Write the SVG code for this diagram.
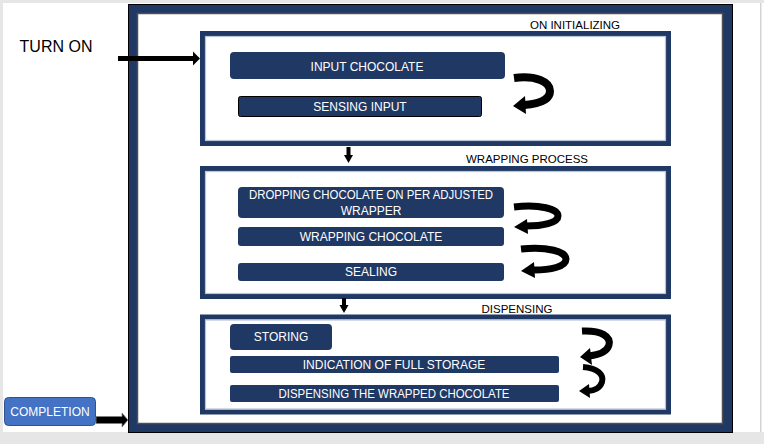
<svg xmlns="http://www.w3.org/2000/svg" width="764" height="444" viewBox="0 0 764 444">
<style>
.stage{fill:#ffffff;stroke:#203864;stroke-width:5}
.stagein{fill:none;stroke:#b8c3d6;stroke-width:1.2}
.step{fill:#203864}
.st{font-family:"Liberation Sans",Arial,sans-serif;font-size:12px;fill:#ffffff;text-anchor:middle}
.lbl{font-family:"Liberation Sans",Arial,sans-serif;font-size:11.5px;fill:#000000;text-anchor:middle}
.band{fill:none;stroke:#000000}
.head{fill:#000000}
</style>
<rect x="0" y="0" width="764" height="444" fill="#ffffff"/>
<rect x="0" y="0" width="764" height="3" fill="#e6e6e6"/>
<rect x="0" y="0" width="3" height="444" fill="#e6e6e6"/>
<rect x="760" y="3" width="1.5" height="429" fill="#d4d4d4"/>
<rect x="0" y="432" width="764" height="12" fill="#e6e6e6"/>

<g id="frame">
<rect x="128.5" y="4.5" width="604" height="428" fill="#203864" stroke="#000000" stroke-width="1"/>
<rect x="137.5" y="13.5" width="585" height="410" fill="#ffffff" stroke="#505050" stroke-width="1.5"/>
</g>

<g id="turn-on">
<text x="56" y="52" font-family="'Liberation Sans',Arial,sans-serif" font-size="16" fill="#000000" text-anchor="middle">TURN ON</text>
</g>

<g id="completion">
<rect x="4.5" y="397.5" width="91" height="28" rx="4" fill="#4472c4" stroke="#2f528f" stroke-width="1"/>
<text x="50" y="415.5" class="st">COMPLETION</text>
</g>

<g id="stage-initializing">
<rect class="stage" x="202.5" y="33.5" width="466" height="110"/>
<rect class="stagein" x="205.5" y="36.5" width="460" height="104"/>
<text class="lbl" x="575" y="29">ON INITIALIZING</text>
</g>
<g id="step-input-chocolate">
<rect class="step" x="230" y="52" width="275" height="27" rx="4"/>
<text class="st" x="367" y="70.5">INPUT CHOCOLATE</text>
</g>
<g id="step-sensing-input">
<rect class="step" x="238.5" y="96.5" width="243" height="20" rx="2" stroke="#000000" stroke-width="1"/>
<text class="st" x="360" y="110.5">SENSING INPUT</text>
</g>

<g id="stage-wrapping">
<rect class="stage" x="202.5" y="168.5" width="466" height="128"/>
<rect class="stagein" x="205.5" y="171.5" width="460" height="122"/>
<text class="lbl" x="527" y="163">WRAPPING PROCESS</text>
</g>
<g id="step-dropping">
<rect class="step" x="238" y="187" width="266" height="31" rx="4"/>
<text class="st" x="371" y="198.5" textLength="244" lengthAdjust="spacingAndGlyphs">DROPPING CHOCOLATE ON PER ADJUSTED</text>
<text class="st" x="371" y="215">WRAPPER</text>
</g>
<g id="step-wrapping-chocolate">
<rect class="step" x="238" y="227" width="266" height="19" rx="3"/>
<text class="st" x="371" y="240.5">WRAPPING CHOCOLATE</text>
</g>
<g id="step-sealing">
<rect class="step" x="238" y="263" width="266" height="18" rx="3"/>
<text class="st" x="371" y="276">SEALING</text>
</g>

<g id="stage-dispensing">
<rect class="stage" x="202.5" y="317" width="466" height="95"/>
<rect class="stagein" x="205.5" y="320" width="460" height="89"/>
<text class="lbl" x="517" y="313">DISPENSING</text>
</g>
<g id="step-storing">
<rect class="step" x="230" y="324" width="102" height="26" rx="4"/>
<text class="st" x="281" y="341">STORING</text>
</g>
<g id="step-indication">
<rect class="step" x="230" y="356" width="329" height="17" rx="2"/>
<text class="st" x="394" y="369">INDICATION OF FULL STORAGE</text>
</g>
<g id="step-dispensing-wrapped">
<rect class="step" x="230" y="385" width="329" height="17" rx="2"/>
<text class="st" x="394" y="397.5" textLength="231" lengthAdjust="spacingAndGlyphs">DISPENSING THE WRAPPED CHOCOLATE</text>
</g>

<g id="connectors">
<rect x="118" y="56" width="76" height="5" fill="#000000"/>
<polygon points="193,51.5 200,58.5 193,65.5" fill="#000000"/>
<polygon points="96,416.5 122,416.5 122,413 128,420 122,427 122,423.5 96,423.5" fill="#000000" stroke="#7f7f7f" stroke-width="0.8"/>
<rect x="346.5" y="147" width="4" height="9" fill="#000000"/>
<polygon points="344,155 353,155 348.5,163" fill="#000000"/>
<rect x="342" y="298" width="4" height="8" fill="#000000"/>
<polygon points="339.5,305 348.5,305 344,313" fill="#000000"/>

<path class="band" stroke-width="8" d="M514,78 C536,75 550,82 550,91 C550,100 538,104 524,105"/>
<polygon class="head" points="513,106 525,96 526,114"/>

<path class="band" stroke-width="7" d="M514,207 C540,204 558,209 558,216 C558,223 542,226 526,226"/>
<polygon class="head" points="514,227 527,219 528,234"/>

<path class="band" stroke-width="7" d="M521,249 C548,246 566,252 566,259 C566,267 550,270 534,270"/>
<polygon class="head" points="521,271 534,262 535,278"/>

<path class="band" stroke-width="7" d="M582,331 C602,330 611,337 609,345 C607,352 598,355 589,356"/>
<polygon class="head" points="580,357 590,348 592,365"/>

<path class="band" stroke-width="6" d="M583,367 C598,368 604,375 602,382 C600,388 594,391 588,391"/>
<polygon class="head" points="579,391 589,384 590,398"/>
</g>
</svg>
